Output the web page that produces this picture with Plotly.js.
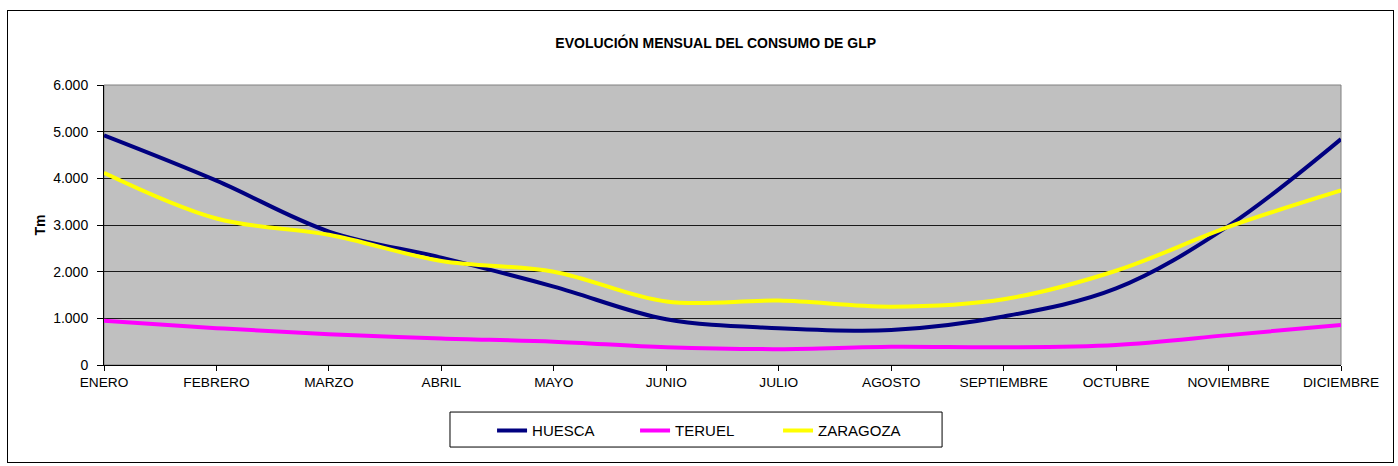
<!DOCTYPE html>
<html>
<head>
<meta charset="utf-8">
<script src="https://cdn.plot.ly/plotly-3.0.1.min.js"></script>
<style>
  html, body { margin: 0; padding: 0; background: #fff; }
  #frame { position: absolute; left: 7px; top: 10px; width: 1387px; height: 453px; border: 1px solid #000; box-sizing: border-box; }
  #chart { width: 1385px; height: 451px; }
</style>
</head>
<body>
<div id="frame"><div id="chart"></div></div>
<script>
const months = ["ENERO","FEBRERO","MARZO","ABRIL","MAYO","JUNIO","JULIO","AGOSTO","SEPTIEMBRE","OCTUBRE","NOVIEMBRE","DICIEMBRE"];
const huesca   = [4920, 3950, 2860, 2300, 1680, 980, 790, 750, 1040, 1640, 2980, 4840];
const teruel   = [950, 790, 660, 570, 500, 380, 340, 390, 380, 430, 640, 860];
const zaragoza = [4120, 3140, 2790, 2230, 2000, 1360, 1380, 1250, 1410, 2020, 2960, 3740];
const yTicks = [0, 1000, 2000, 3000, 4000, 5000, 6000];

const FONT = "Liberation Sans, Arial, sans-serif";
function mk(name, y, color) {
  return { type: "scatter", mode: "lines", name: name, x: months, y: y,
    line: { color: color, width: 4, shape: "spline", smoothing: 1 }, hoverinfo: "skip" };
}
const data = [mk("HUESCA", huesca, "#000080"), mk("TERUEL", teruel, "#ff00ff"), mk("ZARAGOZA", zaragoza, "#ffff00")];

const layout = {
  width: 1385, height: 451,
  margin: { l: 96, r: 52, t: 74, b: 97 },
  paper_bgcolor: "#ffffff",
  plot_bgcolor: "#c0c0c0",
  separators: ",.",
  font: { family: FONT, size: 13.7, color: "#000" },
  title: { text: "<b>EVOLUCIÓN MENSUAL DEL CONSUMO DE GLP</b>", font: { family: FONT, size: 14, color: "#000" },
           x: 0.511, xanchor: "center", y: 0.929, yref: "container", yanchor: "middle" },
  xaxis: {
    type: "category", range: [0, 11], showgrid: false, zeroline: false,
    showline: true, linecolor: "#000", linewidth: 1,
    ticks: "outside", ticklen: 5, tickcolor: "#000",
    tickfont: { family: FONT, size: 13.7, color: "#000" }
  },
  yaxis: {
    range: [0, 6000], tickvals: yTicks, tickformat: ",.0f",
    showgrid: true, gridcolor: "#1a1a1a", gridwidth: 1, zeroline: false,
    showline: true, linecolor: "#000", linewidth: 1,
    ticks: "outside", ticklen: 6, tickcolor: "#000", ticklabelstandoff: 6,
    tickfont: { family: FONT, size: 14, color: "#000" },
    title: { text: "<b>Tm</b>", font: { family: FONT, size: 14, color: "#000" }, standoff: 4 }
  },
  showlegend: true,
  legend: {
    orientation: "h", x: 0.3137, xanchor: "left", y: -0.176, yanchor: "top",
    bgcolor: "rgba(0,0,0,0)", borderwidth: 0,
    font: { family: FONT, size: 15, color: "#000" },
    entrywidth: 98, entrywidthmode: "pixels", itemwidth: 30
  },
  shapes: [
    { type: "rect", xref: "paper", yref: "paper", x0: 0, x1: 1, y0: 0, y1: 1, line: { color: "#808080", width: 1 }, fillcolor: "rgba(0,0,0,0)", layer: "below" },
    { type: "rect", xref: "paper", yref: "paper", x0: 0.2797, x1: 0.6775, y0: -0.293, y1: -0.168, line: { color: "#000", width: 1 }, fillcolor: "rgba(0,0,0,0)" }
  ]
};
Plotly.newPlot("chart", data, layout, { displayModeBar: false, staticPlot: true });
</script>
</body>
</html>
